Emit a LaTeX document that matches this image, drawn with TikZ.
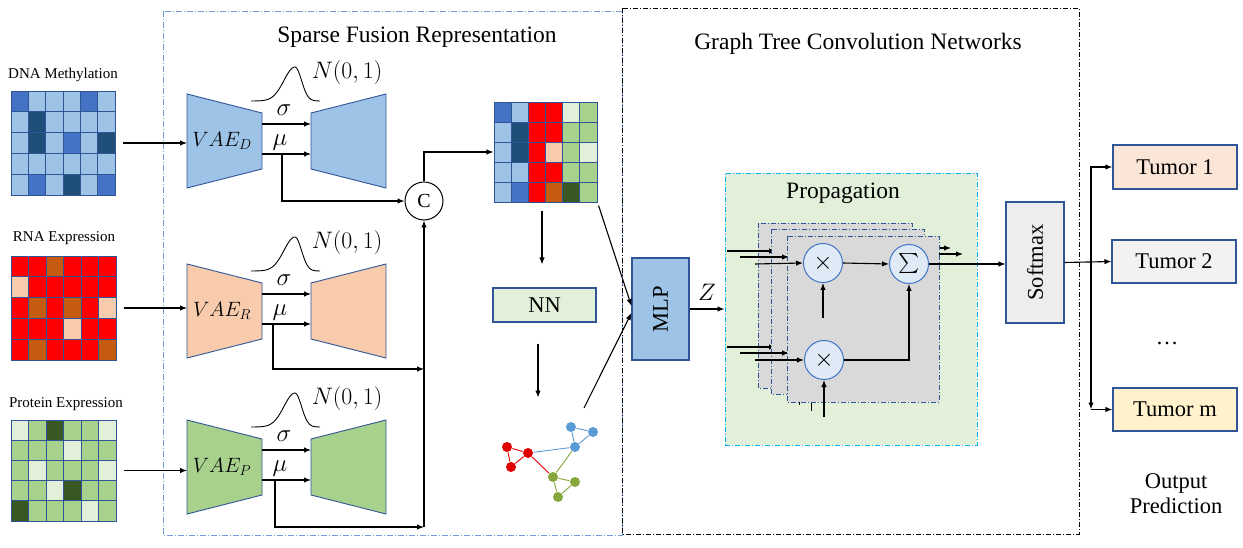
\documentclass[tikz,border=0pt]{standalone}
\usepackage{graphicx}
\usepackage{fontspec}
\setmainfont{Liberation Serif}
\usetikzlibrary{arrows.meta,calc}
\definecolor{dL}{HTML}{9DC3E6}
\definecolor{dM}{HTML}{4472C4}
\definecolor{dD}{HTML}{1F4E79}
\definecolor{rR}{HTML}{FF0000}
\definecolor{rB}{HTML}{C55A11}
\definecolor{rP}{HTML}{F8CBAD}
\definecolor{pG}{HTML}{A9D18E}
\definecolor{pD}{HTML}{385723}
\definecolor{pL}{HTML}{E2F0D9}
\definecolor{gridc}{HTML}{2F5597}
\definecolor{bordc}{HTML}{2F5597}
\definecolor{frameblue}{HTML}{6F9BD8}
\definecolor{propfill}{HTML}{E2F0D9}
\definecolor{propline}{HTML}{00B0F0}
\definecolor{layerfill}{HTML}{D9D9D9}
\definecolor{circfill}{HTML}{DEEBF7}
\definecolor{softfill}{HTML}{EDEDED}
\definecolor{tonefill}{HTML}{FBE5D6}
\definecolor{ttwofill}{HTML}{F2F2F2}
\definecolor{tmfill}{HTML}{FFF2CC}
\definecolor{gblue}{HTML}{5B9BD5}
\definecolor{gred}{HTML}{E00000}
\definecolor{ggreen}{HTML}{86A83A}

\newcommand\cellgrid[5]{%
  \foreach \row [count=\r from 0] in {#5}{%
    \foreach \cc [count=\k from 0] in \row{%
      \filldraw[fill=\cc, draw=gridc, line width=0.9pt] ({#1+\k*#3},{#2+\r*#4}) rectangle ++(#3,#4);
    }%
  }%
}

\newcommand\vaeblock[4]{%
  \draw[draw=bordc,line width=0.9pt,fill=#3] (187,#2) -- (262,{#2+19}) -- (262,{#2+75}) -- (187,{#2+94}) -- cycle;
  \draw[draw=bordc,line width=0.9pt,fill=#3] (311,{#2+19}) -- (386,#2) -- (386,{#2+94}) -- (311,{#2+75}) -- cycle;
  \node[mth] (vl#1) at (222,{#2+47}) {#4};
  \coordinate (es#1) at (262,{#2+30});
  \coordinate (ds#1) at (311,{#2+30});
  \coordinate (em#1) at (262,{#2+60});
  \coordinate (dm#1) at (311,{#2+60});
  \coordinate (ein#1) at (187,{#2+48});
  \draw[arr] (es#1) -- (ds#1);
  \draw[arr] (em#1) -- (dm#1);
  \node[mth, scale=1.2] (sg#1) at (284,{#2+16}) {$\sigma$};
  \node[mth, scale=1.2] (mu#1) at (280,{#2+49}) {$\mu$};
  \draw[line width=0.9pt] plot[smooth,domain=251:320,samples=70] (\x,{#2+7-34*exp(-((\x-295)/(\x<295?11:6.5))^2/2)});
  \node[mth, scale=1.15] (N#1) at (347,{#2-21}) {$N(0,1)$};
}

\begin{document}
\begin{tikzpicture}[x=1pt,y=-1pt,line width=1.1pt,
  arr/.style={-{Latex[length=7pt,width=5.5pt]}, line width=1.1pt},
  barr/.style={-{Latex[length=7pt,width=5.5pt]}, line width=1.7pt},
  title/.style={font=\fontsize{23.5}{28}\selectfont, inner sep=0},
  lab/.style={font=\fontsize{15}{18}\selectfont, inner sep=0},
  btxt/.style={font=\fontsize{22.5}{27}\selectfont, inner sep=0},
  mth/.style={font=\huge, inner sep=0},
  box/.style={draw=bordc, line width=1.1pt, inner sep=0},
  layer/.style={draw=bordc, fill=layerfill, line width=0.8pt, dash pattern=on 5pt off 2pt on 1pt off 2pt},
  opc/.style={circle, draw=dM, fill=circfill, line width=1pt, minimum size=39pt, inner sep=0},
  gn/.style={circle, minimum size=10pt, inner sep=0},
]
\useasboundingbox (0,0) rectangle (1243,548);

% frames
\draw[frameblue, line width=0.9pt, dash pattern=on 6pt off 2pt on 1pt off 2pt] (163,11) rectangle (622,535);
\draw[black, line width=0.9pt, dash pattern=on 5pt off 2pt on 1pt off 2pt] (622,8) rectangle (1079,534);

\node[title] (t1) at (417,37) {Sparse Fusion Representation};
\node[title] (t2) at (858,44) {Graph Tree Convolution Networks};

% input labels and grids
\node[lab] (lD) at (63,75) {DNA Methylation};
\node[lab] (lR) at (64,238) {RNA Expression};
\node[lab] (lP) at (66,404) {Protein Expression};

\cellgrid{11}{91}{17.33}{20.8}{{dM,dL,dL,dL,dM,dL},{dL,dD,dL,dL,dL,dL},{dL,dD,dL,dM,dL,dD},{dL,dL,dL,dL,dL,dL},{dL,dM,dL,dD,dL,dM}}
\cellgrid{11}{256}{17.5}{20.8}{{rR,rR,rB,rR,rR,rR},{rP,rR,rR,rR,rR,rR},{rR,rB,rR,rB,rR,rP},{rR,rR,rR,rP,rR,rR},{rR,rB,rR,rR,rR,rB}}
\cellgrid{11}{420}{17.5}{20.2}{{pL,pG,pD,pG,pG,pL},{pG,pG,pG,pL,pG,pG},{pG,pL,pG,pG,pG,pL},{pG,pG,pL,pD,pG,pG},{pD,pG,pG,pG,pL,pG}}
\node[inner sep=0, minimum width=104pt, minimum height=104pt] (gD) at (63,143) {};
\node[inner sep=0, minimum width=105pt, minimum height=104pt] (gR) at (63.5,308) {};
\node[inner sep=0, minimum width=105pt, minimum height=101pt] (gP) at (63.5,470.5) {};

% VAEs
\vaeblock{D}{94}{dL}{$VAE_D$}
\vaeblock{R}{264}{rP}{$VAE_R$}
\vaeblock{P}{420}{pG}{$VAE_P$}

\draw[arr] ([xshift=7pt]gD.east) -- (gD.east -| einD);
\draw[arr] ([xshift=7pt]gR.east) -- (gR.east -| einR);
\draw[arr] ([xshift=7pt]gP.east) -- (gP.east -| einP);

% concat
\node[circle, draw=black, line width=1pt, minimum size=38pt, inner sep=0, font=\fontsize{20}{24}\selectfont] (C) at (424,201) {C};
\coordinate (mbD) at (282,154);
\coordinate (mbR) at (273,324);
\coordinate (mbP) at (275,480);
\coordinate (jR) at (424,369);
\coordinate (jP) at (424,527);
\draw[arr] (mbD) |- (C.west);
\draw[arr] (mbR) |- (jR);
\draw[arr] (mbP) |- (jP);
\draw[arr] (jP) -- (C.south);

% fused matrix
\cellgrid{494}{102}{17.17}{20}{{dM,dL,rR,rR,pL,pG},{dL,dD,rR,rR,pG,pG},{dL,dD,rR,rP,pG,pL},{dL,dL,rR,rR,pG,pG},{dL,dM,rR,rB,pD,pG}}
\node[inner sep=0, minimum width=103pt, minimum height=100pt] (fus) at (545.5,152) {};
\draw[arr] (C.north) |- (fus.west);

% NN
\node[box, fill=pL, minimum width=103pt, minimum height=34pt, btxt] (NN) at (544.5,305) {NN};
\draw[arr] ($(fus.south)+(-3.5,8)$) -- ($(NN.north)+(-2.5,-23)$);
\draw[arr] ($(NN.south)+(-6.5,21)$) -- ($(NN.south)+(-6.5,75)$);

% graph
\node[gn, fill=gblue] (b1) at (571,427) {};
\node[gn, fill=gblue] (b2) at (593,432) {};
\node[gn, fill=gblue] (b3) at (575,447) {};
\node[gn, fill=gred] (r1) at (507,447) {};
\node[gn, fill=gred] (r2) at (528,453) {};
\node[gn, fill=gred] (r3) at (511,467) {};
\node[gn, fill=ggreen] (q1) at (553,477) {};
\node[gn, fill=ggreen] (q2) at (575,482) {};
\node[gn, fill=ggreen] (q3) at (558,497) {};
\draw[gblue, line width=0.9pt] (b1) -- (b2) (b2) -- (b3) (b1) -- (b3) (b3) -- (r2);
\draw[gred, line width=0.9pt] (r1) -- (r2) (r1) -- (r3) (r2) -- (r3) (r2) -- (q1);
\draw[ggreen, line width=0.9pt] (b3) -- (q1) (q1) -- (q2) (q2) -- (q3) (q1) -- (q3);
\coordinate (gtop) at (584,408);

% MLP
\node[box, fill=dL, minimum width=57pt, minimum height=102pt] (MLP) at (660.5,309) {};
\node[btxt, rotate=90] (MLPt) at (MLP) {MLP};
\draw[arr] ($(fus.south east)+(1,3)$) -- ($(MLP.west)+(0,-3)$);
\draw[arr] (gtop) -- ($(MLP.west)+(0,4)$);

% propagation
\node[draw=propline, fill=propfill, line width=0.9pt, dash pattern=on 5pt off 2pt on 1pt off 2pt, minimum width=252pt, minimum height=272pt, inner sep=0] (prop) at (851,309) {};
\node[title] (ptitle) at (843,193) {Propagation};
\draw[arr] (MLP.east) -- (prop.west);
\node[mth, scale=1.15] (zl) at (707,292) {$Z$};

% layer 1
\draw[layer] (758,223) rectangle (912,388);
\draw[arr] (727,251) -- (776,251);
\draw[arr] (727,347) -- (776,347);
\draw[arr] (900,248) -- (951,248);
\draw[line width=1pt] (799,405) -- (799,390);
% layer 2
\draw[layer] (771,229) rectangle (924,394);
\draw[arr] (740,257) -- (789,257);
\draw[arr] (740,353) -- (789,353);
\draw[arr] (910,254) -- (963,254);
\draw[line width=1pt] (811,411) -- (811,396);
% layer 3
\draw[layer] (787,236) rectangle (939,402);
\node[opc, font=\Huge] (x1) at (823,263) {$\times$};
\node[opc] (S) at (909,264) {\scalebox{2}{$\sum$}};
\node[opc, font=\Huge] (x2) at (824,360) {$\times$};
\draw[arr] (755,264) -- (x1.west);
\draw[arr] (755,360) -- (x2.west);
\draw[arr] (x1.east) -- (S.west);
\draw[arr] (x2.east) -| (S.south);
\draw[arr] ($(x1.south)+(0,35)$) -- (x1.south);
\draw[arr] ($(x2.south)+(0,37)$) -- (x2.south);

% softmax
\node[box, fill=softfill, minimum width=58pt, minimum height=121pt] (soft) at (1035,262.5) {};
\node[btxt, rotate=90] (softt) at (soft) {Softmax};
\draw[arr] (S.east) -- (S.east -| soft.west);

% outputs
\node[box, fill=tonefill, minimum width=124pt, minimum height=44pt, btxt] (T1) at (1175,167) {Tumor 1};
\node[box, fill=ttwofill, minimum width=124pt, minimum height=43pt, btxt] (T2) at (1174,261.5) {Tumor 2};
\node[box, fill=tmfill, minimum width=124pt, minimum height=43pt, btxt] (Tm) at (1175,409.5) {Tumor m};
\node[btxt] (dots) at (1167,343) {\dots};
\node[btxt, align=center] (outp) at (1176,494) {Output\\[-2pt]Prediction};
\coordinate (br) at (1091,262);
\draw[arr] (soft.east) -- (T2.west);
\draw[barr] (br) |- (T1.west);
\draw[barr] (br) -- (br |- Tm.west);
\draw[barr] (br |- Tm.west) -- (Tm.west);
\end{tikzpicture}
\end{document}
